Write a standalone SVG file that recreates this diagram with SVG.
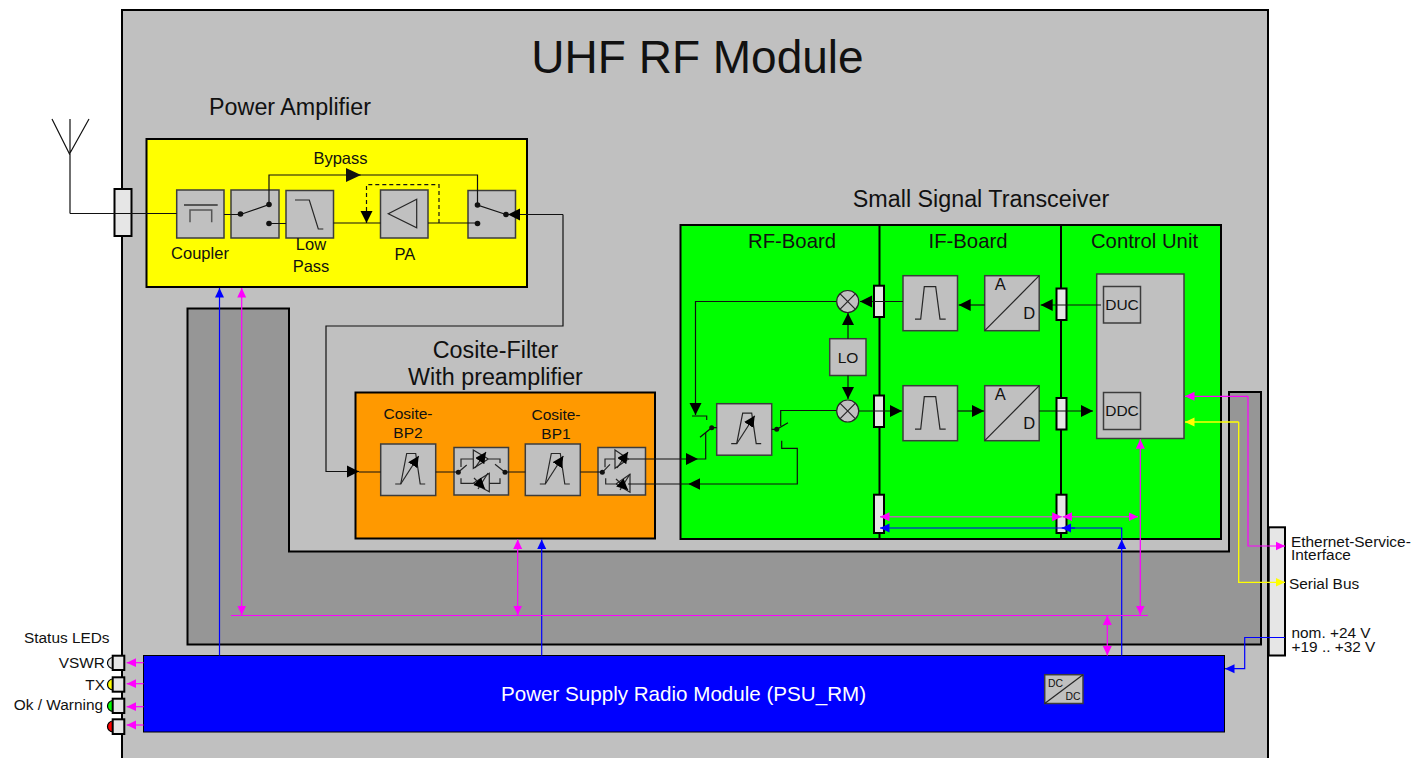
<svg xmlns="http://www.w3.org/2000/svg" width="1414" height="758" viewBox="0 0 1414 758">
<style>
text{font-family:"Liberation Sans",Arial,sans-serif;fill:#111}
.m{text-anchor:middle}.e{text-anchor:end}
.box{stroke:#000;stroke-width:2}
.blk{fill:#c0c0c0;stroke:#3c3c3c;stroke-width:1.5}
.con{fill:#e6e6e6;stroke:#000;stroke-width:2}
.gl{fill:none;stroke:#262626;stroke-width:1.2}
.ln{fill:none;stroke:#111;stroke-width:1.2}
.t16{font-size:16.5px}.t15{font-size:15.5px}.t21{font-size:23.3px}.t18{font-size:20.3px}.t14{font-size:15.4px}
.k{marker-end:url(#ak)}
.mg{fill:none;stroke:#f0f;stroke-width:1.2}
.bl{fill:none;stroke:#00f;stroke-width:1.2}
.ye{fill:none;stroke:#ff0;stroke-width:1.3}
.mge{marker-end:url(#am)}.mgs{marker-start:url(#am)}.ble{marker-end:url(#ab)}.yee{marker-end:url(#ay)}
</style>
<defs>
<marker id="ak" markerUnits="userSpaceOnUse" markerWidth="13" markerHeight="13" refX="12" refY="6.5" orient="auto-start-reverse"><path d="M0 .5L12 6.5L0 12.5z" fill="#000"/></marker>
<marker id="akl" markerUnits="userSpaceOnUse" markerWidth="16" markerHeight="16" refX="15" refY="8" orient="auto"><path d="M0 1L15 8L0 15z" fill="#111"/></marker>
<marker id="am" markerUnits="userSpaceOnUse" markerWidth="10" markerHeight="10" refX="9.5" refY="5" orient="auto-start-reverse"><path d="M0 .5L9.5 5L0 9.5z" fill="#f0f"/></marker>
<marker id="ab" markerUnits="userSpaceOnUse" markerWidth="10" markerHeight="10" refX="9.5" refY="5" orient="auto-start-reverse"><path d="M0 .5L9.5 5L0 9.5z" fill="#00f"/></marker>
<marker id="ay" markerUnits="userSpaceOnUse" markerWidth="10" markerHeight="10" refX="9.5" refY="5" orient="auto-start-reverse"><path d="M0 .5L9.5 5L0 9.5z" fill="#ff0"/></marker>
<marker id="ahs" markerUnits="userSpaceOnUse" markerWidth="12" markerHeight="12" refX="11" refY="5.500" orient="auto"><path d="M0 0L11 5.500L0 11z" fill="#000"/></marker>
<g id="tunefilter">
<rect class="blk" width="55" height="51.500"/>
<path class="gl" d="M14.500 40H20L26 9.500H35L39.500 40H44.500"/>
<path class="gl" d="M20 40L38 12" marker-end="url(#ahs)"/>
</g>
<g id="bandpass">
<rect class="blk" width="54.500" height="55"/>
<path class="gl" d="M12 43.500H17.700L21.300 11H32.700L37 43.500H42.700"/>
</g>
<g id="adc">
<rect class="blk" width="54.500" height="55"/>
<path class="gl" d="M0 55L54.500 0"/>
<text class="t16 m" x="15.500" y="14.500">A</text>
<text class="t16 m" x="44.500" y="43.500">D</text>
</g>
<g id="mixer">
<circle r="11" fill="#c0c0c0" stroke="#262626" stroke-width="1.200"/>
<path class="gl" d="M-7.800 -7.800L7.800 7.800M-7.800 7.800L7.800 -7.800"/>
</g>
</defs>

<rect id="module" x="122" y="10" width="1146" height="760" fill="#c0c0c0" class="box"/>
<text class="m" x="697.500" y="73" style="font-size:46px">UHF RF Module</text>
<path id="backplane" class="box" fill="#969696" d="M187.500 308.500H289V551.500H1229V392H1261V644.500H187.500Z"/>

<g id="antenna">
<path class="ln" d="M52 119L69.500 154L89 119M70 119V213.500"/>
<rect class="con" x="114.500" y="189" width="17" height="47"/>
</g>

<g id="power-amplifier">
<rect class="box" x="146.500" y="139" width="380.500" height="148" fill="#ff0"/>
<text class="t21 m" x="290" y="115">Power Amplifier</text>
<text class="t16 m" x="340.500" y="163.500">Bypass</text>
<rect class="blk" x="176.700" y="190" width="47.300" height="48"/>
<path d="M184 205H217.700" fill="none" stroke="#555" stroke-width="1.800"/>
<path d="M190 222.300V210H211.700V222.300" fill="none" stroke="#555" stroke-width="1.500"/>
<rect class="blk" x="231" y="190" width="48" height="48"/>
<rect class="blk" x="286" y="190.500" width="47.500" height="47.500"/>
<path class="gl" d="M295 200H309.300L318.300 229H323.300"/>
<rect class="blk" x="380.500" y="190" width="47.500" height="48"/>
<path class="gl" d="M416.700 199.300L388.300 213.700L416.700 227.700Z"/>
<rect class="blk" x="468" y="190.500" width="47.500" height="47.500"/>
<text class="t16 m" x="200" y="259">Coupler</text>
<text class="t16 m" x="311" y="250">Low</text>
<text class="t16 m" x="311" y="271.500">Pass</text>
<text class="t16 m" x="405" y="260">PA</text>
</g>

<g id="cosite-filter">
<rect class="box" x="355.500" y="392.500" width="299.500" height="146" fill="#f90"/>
<text class="t21 m" x="495.500" y="357.500">Cosite-Filter</text>
<text class="t21 m" x="495.500" y="384.500">With preamplifier</text>
<text class="t15 m" x="408" y="418.500">Cosite-</text>
<text class="t15 m" x="408" y="437.500">BP2</text>
<text class="t15 m" x="556" y="419.500">Cosite-</text>
<text class="t15 m" x="556" y="438.500">BP1</text>
<use href="#tunefilter" x="380.700" y="444"/>
<use href="#tunefilter" x="525.300" y="444"/>
<rect class="blk" x="454" y="447.500" width="54.500" height="47.500"/>
<path class="gl" d="M473.300 450L488.300 459L473.300 468.300ZM461 467V459H473M488 459H500V463M458.300 472.300L466.700 465M505 472.300L495 464.300M461 478.300V483.300H473M489 483.300H500V478.300M489.300 473.300L473.300 483.300L489.300 491.700Z"/>
<path class="gl" d="M475 468L486 452" marker-end="url(#ahs)"/>
<path class="gl" d="M488 473L478 489M474 478L485 489" marker-end="url(#ahs)"/>
<circle cx="458.300" cy="472.300" r="2.500" fill="#111"/><circle cx="505" cy="472.300" r="2.500" fill="#111"/>
<rect class="blk" x="598" y="447.500" width="47.500" height="47.500"/>
<path class="gl" d="M615 450L628.300 459L615 468.300ZM605 467.300V459H615M602.300 472.300L610 464.300M605.700 478.300V484H616M630 474.300L616 484L630 492.300Z"/>
<path class="gl" d="M617 468L628 452" marker-end="url(#ahs)"/>
<path class="gl" d="M630 474L620 490M616 479L628 490" marker-end="url(#ahs)"/>
<circle cx="602.300" cy="472.300" r="2.500" fill="#111"/>
</g>

<g id="transceiver">
<rect class="box" x="680.500" y="225" width="540.500" height="314" fill="#0f0"/>
<path class="box" d="M879.500 225V539M1061 225V539"/>
<text class="t21 m" x="981" y="206.500">Small Signal Transceiver</text>
<text class="t18 m" x="792" y="248">RF-Board</text>
<text class="t18 m" x="968" y="248">IF-Board</text>
<text class="t18 m" x="1144.500" y="248">Control Unit</text>
<use href="#tunefilter" x="716.700" y="403.700"/>
<use href="#bandpass" x="903" y="275.700"/>
<use href="#bandpass" x="903" y="385.700"/>
<use href="#adc" x="984.700" y="275.700"/>
<use href="#adc" x="984.700" y="385.700"/>
<rect class="blk" x="829.700" y="338.700" width="36.300" height="36.800"/>
<text class="t15 m" x="848" y="362.500">LO</text>
<rect class="blk" x="1096.700" y="274" width="87.300" height="164.500"/>
<rect class="blk" x="1103.500" y="286.500" width="37" height="36.500"/>
<text class="t15 m" x="1122" y="310">DUC</text>
<rect class="blk" x="1103.500" y="392.500" width="37" height="37"/>
<text class="t15 m" x="1122" y="416">DDC</text>
<rect class="con" x="874" y="285.700" width="10" height="31.300"/>
<rect class="con" x="874" y="395.500" width="10" height="31.500"/>
<rect class="con" x="1056.500" y="288.500" width="10" height="31.500"/>
<rect class="con" x="1056.500" y="398" width="10" height="31.500"/>
<rect class="con" x="874" y="494.700" width="10" height="38.300"/>
<rect class="con" x="1056.500" y="494.700" width="10" height="38.300"/>
</g>

<g id="psu">
<rect x="143.500" y="655.500" width="1081" height="76.500" fill="#00f" stroke="#000" stroke-width="1"/>
<text class="m" x="683.500" y="700.500" style="font-size:20.600px;fill:#fff">Power Supply Radio Module (PSU_RM)</text>
<rect class="blk" x="1044.700" y="674.700" width="38.300" height="28.800"/>
<path class="gl" d="M1044.700 703.500L1083 674.700"/>
<text x="1048" y="687" style="font-size:10.400px">DC</text>
<text x="1065.500" y="699.500" style="font-size:10.400px">DC</text>
</g>

<g id="io-panel">
<rect class="box" x="1268.700" y="527.300" width="16.300" height="128.200" fill="#e6e6e6"/>
<text class="t14" x="1291" y="546.500">Ethernet-Service-</text>
<text class="t14" x="1291" y="559.500">Interface</text>
<text class="t14" x="1289" y="588.500">Serial Bus</text>
<text class="t14" x="1291.500" y="638">nom. +24 V</text>
<text class="t14" x="1291.500" y="652">+19 .. +32 V</text>
</g>

<g id="status-leds">
<text class="t14" x="24" y="643">Status LEDs</text>
<text class="t14 e" x="105" y="668">VSWR</text>
<text class="t14 e" x="105" y="689.500">TX</text>
<text class="t14 e" x="103" y="710">Ok / Warning</text>
<circle cx="113" cy="663" r="5.500" fill="#e6e6e6" stroke="#000" stroke-width="1.200"/>
<circle cx="113" cy="684.500" r="5.500" fill="#ff0" stroke="#000" stroke-width="1.200"/>
<circle cx="113" cy="706" r="5.500" fill="#0f0" stroke="#000" stroke-width="1.200"/>
<circle cx="113" cy="726.500" r="5.500" fill="#f00" stroke="#000" stroke-width="1.200"/>
<rect class="con" x="112.700" y="655.700" width="11.600" height="14.300"/>
<rect class="con" x="112.700" y="677.300" width="11.600" height="14.400"/>
<rect class="con" x="112.700" y="698.700" width="11.600" height="14.300"/>
<rect class="con" x="112.700" y="719.300" width="11.600" height="14.700"/>
</g>

<g id="connectors">
<path class="ln" d="M70 213.500H176.700M224 214.500H240.500L269 204.500V175H347"/>
<path class="ln" d="M347 175H361" stroke-width="1.500" marker-end="url(#akl)"/>
<path class="ln" d="M361 175H477.500V205L506 214.500"/>
<path class="ln" d="M269 223.500H286M333.500 223H380.500M428 223H477.500"/>
<path d="M439 223V184.700H366.500V223" fill="none" stroke="#111" stroke-width="1.200" stroke-dasharray="4 3" marker-end="url(#ak)"/>
<path class="ln k" d="M563 214.500H508" />
<path class="ln" d="M563 214.500V326H326V471.500H347"/>
<path class="ln k" d="M347 471.500H359"/>
<path class="ln" d="M359 472H380.700M435.700 472H458.300M505 472H525.300M580.300 472H602.300"/>
<circle cx="240.500" cy="214" r="2.800" fill="#111"/><circle cx="269" cy="204.500" r="2.800" fill="#111"/><circle cx="269" cy="223.500" r="2.800" fill="#111"/>
<circle cx="477.500" cy="205" r="2.800" fill="#111"/><circle cx="477.500" cy="223.500" r="2.800" fill="#111"/><circle cx="506" cy="214.500" r="2.800" fill="#111"/>

<path class="ln k" d="M628 459H698"/>
<path class="ln" d="M698 459H705.700V433"/>
<path class="ln" d="M700 437.300L711.700 427.700H716.700M692 416H706.700V420"/>
<circle cx="711.700" cy="427.700" r="2.500" fill="#111"/>
<path class="ln k" d="M781.700 440.700V448.300H797.300V484H688.300"/>
<path class="ln" d="M688.300 484H628"/>
<path class="ln" d="M771.700 429.300H776.700L788 422.700M780.700 426V410.500H837"/>
<circle cx="776.700" cy="429.300" r="2.500" fill="#111"/>
<path class="ln k" d="M837 301.500H695.500V415"/>
<path class="ln k" d="M848 338.700V313"/>
<path class="ln k" d="M848 375.500V399"/>
<path class="ln k" d="M903 301.500H860"/>
<path class="ln k" d="M984.700 305H958.700"/>
<path class="ln k" d="M1101 305H1040.700"/>
<path class="ln k" d="M859 411H902"/>
<path class="ln k" d="M957.500 411H984"/>
<path class="ln k" d="M1039 411H1093"/>
<use href="#mixer" x="847.700" y="301.500"/>
<use href="#mixer" x="847.700" y="411"/>

<path class="bl ble" d="M219.500 655.500V288" stroke="#2222cc"/>
<path class="bl ble" d="M541.700 655.500V539.500"/>
<path class="bl ble" d="M1121.700 655.500V539.500"/>
<path class="bl ble" d="M1121.700 539.500V528H880"/>
<path class="bl ble" d="M1075 528H1061.700"/>
<path class="bl ble" d="M1285 637.500H1244.700V668.700H1225"/>

<path class="mg" d="M231 615.500H1148" stroke-width="1"/>
<path class="mg mge mgs" d="M241.700 288V615"/>
<path class="mg mge mgs" d="M517.700 539.500V615"/>
<path class="mg mge mgs" d="M1107.300 615.500V655.500"/>
<path class="mg mge mgs" d="M1140.300 439.300V615"/>
<path d="M880 516.700H1061.700" fill="none" stroke="#b070b0" stroke-width="1.500" class="mge mgs"/>
<path d="M1062.700 516.700H1138" fill="none" stroke="#c050c0" stroke-width="1.500" class="mge mgs"/>
<path class="mg mge" d="M1248 396.300H1185"/>
<path class="mg mge" d="M1248 396.300V546H1285"/>
<path class="ye yee" d="M1238.700 422H1185"/>
<path class="ye yee" d="M1238.700 422V582.300H1285"/>
<path class="mg mge" d="M143.500 662.700H126.700"/>
<path class="mg mge" d="M143.500 683.700H126.700"/>
<path class="mg mge" d="M143.500 706.700H126.700"/>
<path class="mg mge" d="M143.500 725H126.700"/>
</g>
</svg>
